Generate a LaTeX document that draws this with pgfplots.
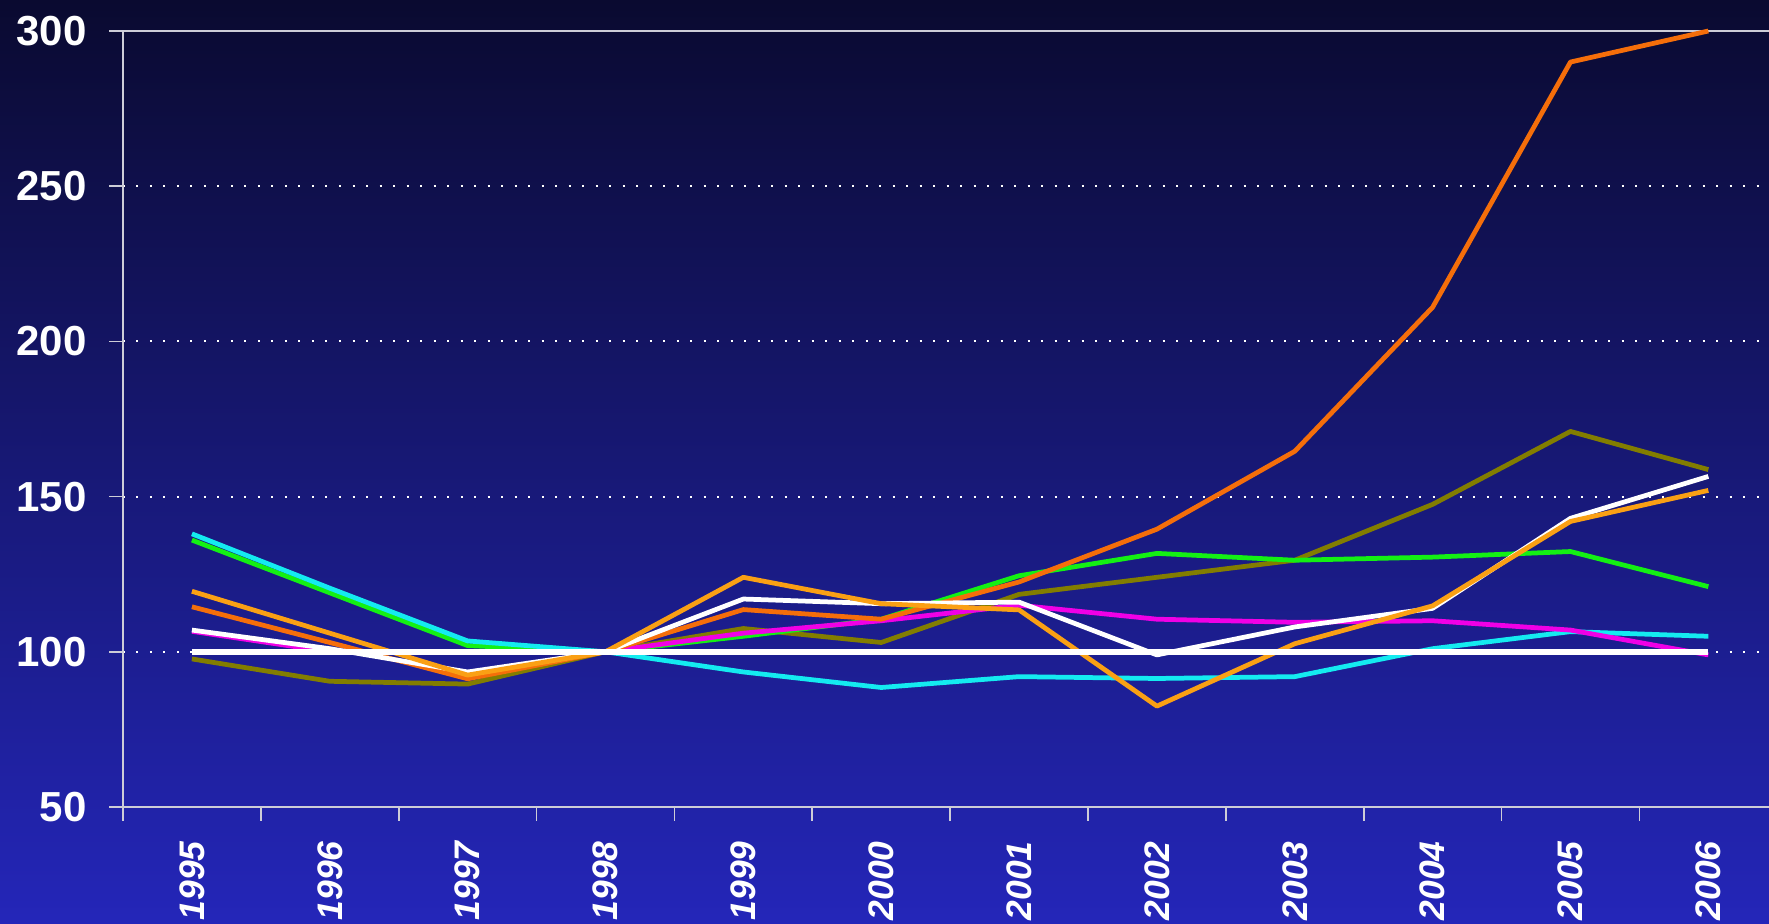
\documentclass[border=0pt]{standalone}
\usepackage{pgfplots}
\pgfplotsset{compat=1.18}
\usepackage{fontspec}
\setmainfont{Liberation Sans}
\definecolor{bgtop}{RGB}{10,10,48}
\definecolor{bgbot}{RGB}{36,38,185}
\definecolor{axgrey}{RGB}{205,205,215}
\definecolor{pinkc}{RGB}{240,0,230}
\definecolor{cyanc}{RGB}{20,235,240}
\definecolor{greenc}{RGB}{20,240,20}
\definecolor{dorange}{RGB}{245,110,10}
\definecolor{lorange}{RGB}{250,160,20}
\definecolor{olivec}{RGB}{130,125,0}
\begin{document}
\begin{tikzpicture}[x=1pt,y=1pt]
\useasboundingbox (0,0) rectangle (707.6,369.6);
\shade[top color=bgtop, bottom color=bgbot] (0,0) rectangle (707.6,369.6);
\begin{axis}[
  at={(49.2pt,46.8pt)}, anchor=south west,
  scale only axis, width=658.4pt, height=310.4pt,
  xmin=-0.5, xmax=11.44, ymin=50, ymax=300,
  axis x line*=bottom, axis y line*=left,
  axis line style={-, draw=axgrey, line width=0.8pt},
  tick align=outside,
  major tick length=5.4pt,
  tick style={draw=axgrey, line width=0.7pt},
  xtick={-0.5,0.5,...,10.5}, xticklabels={},
  extra x ticks={0,1,...,11},
  extra x tick labels={1995,1996,1997,1998,1999,2000,2001,2002,2003,2004,2005,2006},
  extra x tick style={major tick length=0pt, major tick style={draw=none},
    tick label style={rotate=90, anchor=east, inner sep=0pt, xshift=-13.5pt,
      font=\fontsize{14.2}{15}\selectfont\bfseries\itshape, text=white}},
  ytick={50,100,...,300},
  yticklabel style={font=\fontsize{16.8}{18}\selectfont\bfseries, text=white,
    anchor=east, inner sep=0pt, xshift=-9pt},
  /pgf/number format/assume math mode=true,
  ymajorgrids,
  major grid style={white, line width=0.8pt, dash pattern=on 0.8pt off 4.6pt},
  clip=false,
  every axis plot/.append style={line width=1.9pt, line join=round, mark=none},
]
\draw[axgrey, line width=0.8pt] (axis cs:-0.5,300) -- (axis cs:11.44,300);
\addplot[olivec] coordinates {(0,97.7) (1,90.5) (2,89.6) (3,100) (4,107.5) (5,103) (6,118.5) (7,124) (8,129.5) (9,147.5) (10,171) (11,158.7)};
\addplot[greenc] coordinates {(0,136) (1,119) (2,102) (3,100) (4,105) (5,110.5) (6,124.5) (7,131.7) (8,129.5) (9,130.5) (10,132.3) (11,121)};
\addplot[cyanc] coordinates {(0,138) (1,120.5) (2,103.5) (3,100) (4,93.5) (5,88.5) (6,92) (7,91.4) (8,92) (9,101) (10,106.5) (11,105)};
\addplot[pinkc] coordinates {(0,106.6) (1,100) (2,100) (3,100) (4,106) (5,110) (6,115) (7,110.5) (8,109.5) (9,110) (10,107) (11,99)};
\addplot[dorange] coordinates {(0,114.5) (1,103) (2,91.3) (3,100) (4,113.6) (5,110.5) (6,122.5) (7,139.5) (8,164.6) (9,211) (10,290) (11,300)};
\addplot[white] coordinates {(0,107) (1,101) (2,93.5) (3,100) (4,117) (5,115.5) (6,116) (7,99) (8,108) (9,114) (10,143) (11,156.5)};
\addplot[lorange] coordinates {(0,119.5) (1,106) (2,92.5) (3,100) (4,124) (5,115.5) (6,113.5) (7,82.5) (8,102.6) (9,114.8) (10,142) (11,152)};
\addplot[white, line width=2.2pt] coordinates {(0,100) (1,100) (2,100) (3,100) (4,100) (5,100) (6,100) (7,100) (8,100) (9,100) (10,100) (11,100)};
\end{axis}
\end{tikzpicture}
\end{document}
